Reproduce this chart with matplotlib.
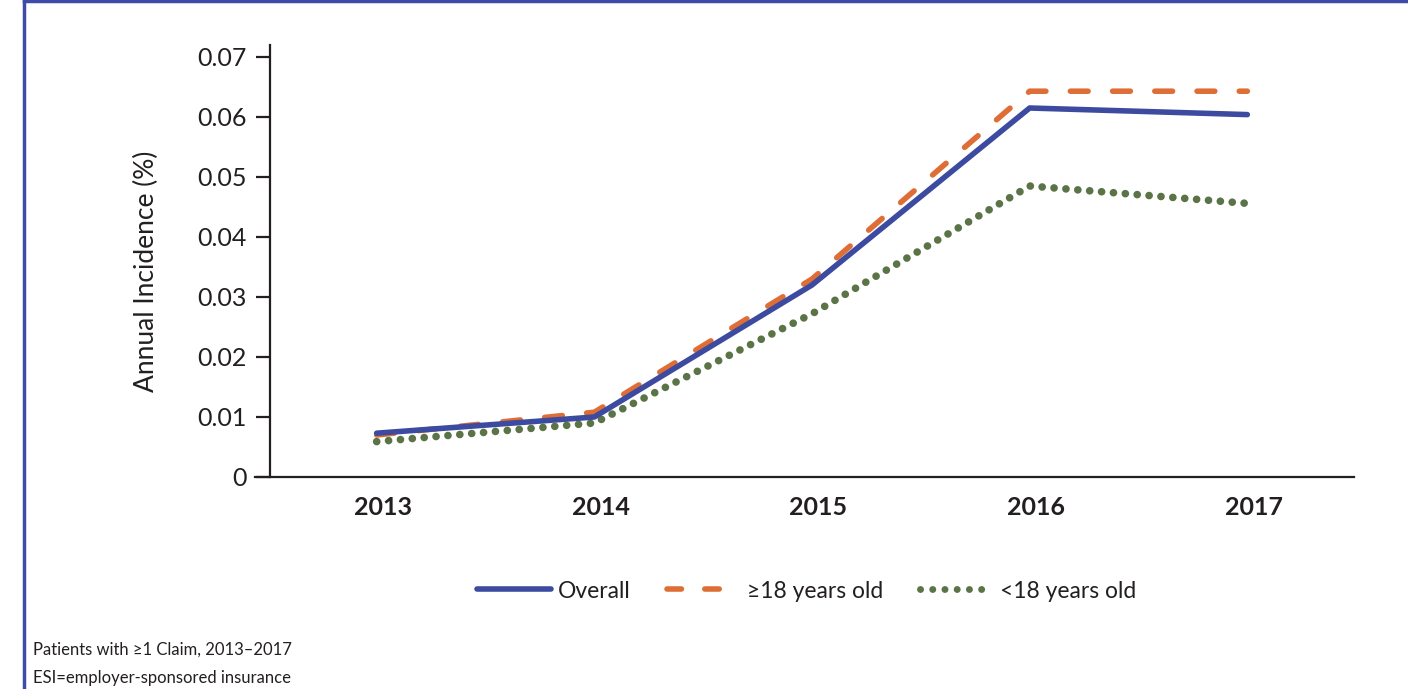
import matplotlib
matplotlib.use("Agg")
from matplotlib import pyplot as plt
from matplotlib.lines import Line2D
import numpy as np

# Data
years = ['2013', '2014', '2015', '2016', '2017']
overall = [0.0073, 0.0100, 0.0320, 0.0615, 0.0604]
adults = [0.0070, 0.0108, 0.0330, 0.0643, 0.0643]
children = [0.0059, 0.0090, 0.0272, 0.0485, 0.0456]

blue = '#3C4AA0'
orange = '#DE6E36'
green = '#5B7447'

plt.rcParams['font.family'] = ['Lato', 'DejaVu Sans']

fig = plt.figure(figsize=(14.08, 6.89), dpi=100)
ax = fig.add_axes([270 / 1408, 1 - 477 / 689, (1354 - 270) / 1408, (477 - 45) / 689])

x = np.arange(len(years))
ax.plot(x, overall, color=blue, lw=4, solid_capstyle='round', label='Overall', zorder=3)
ax.plot(x, adults, color=orange, lw=4, dashes=(3.2, 4.4), dash_capstyle='round',
        label='\u226518 years old', zorder=2)
ax.plot(x, children, color=green, lw=5.5, dashes=(0.01, 1.55), dash_capstyle='round',
        label='<18 years old', zorder=1)

ax.set_xlim(-0.49, 4.49)
ax.set_ylim(0, 0.072)
ax.set_yticks(np.arange(0, 0.071, 0.01))
ax.set_yticklabels(['0', '0.01', '0.02', '0.03', '0.04', '0.05', '0.06', '0.07'])
ax.set_xticks(x + 0.03)
ax.set_xticklabels(years, fontweight='bold')

for side in ['top', 'right']:
    ax.spines[side].set_visible(False)
for side in ['left', 'bottom']:
    ax.spines[side].set_linewidth(1.6)
    ax.spines[side].set_color('#231f20')
ax.spines['bottom'].set_bounds(-0.56, 4.49)
ax.spines['bottom'].set_clip_on(False)

ax.tick_params(axis='y', length=10, width=1.6, pad=7, labelsize=18, colors='#231f20')
ax.tick_params(axis='x', length=0, pad=14, labelsize=18, colors='#231f20')

ax.set_ylabel('Annual Incidence (%)', fontsize=19, color='#231f20')
ax.yaxis.set_label_coords(-0.102, 0.477)

handles = [
    Line2D([], [], color=blue, lw=4, solid_capstyle='round'),
    Line2D([], [], color=orange, lw=4, dashes=(2.6, 4.2), dash_capstyle='round'),
    Line2D([], [], color=green, lw=5, dashes=(0.01, 1.75), dash_capstyle='round'),
]
fig.legend(handles, ['Overall', '\u226518 years old', '<18 years old'],
           loc='center', bbox_to_anchor=(807 / 1408, 1 - 591 / 689), ncol=3,
           frameon=False, fontsize=16.5, handlelength=3.2, handletextpad=0.3,
           columnspacing=1.6, labelcolor='#231f20')

fig.text(33 / 1408, 1 - 650 / 689, 'Patients with \u22651 Claim, 2013\u20132017',
         fontsize=12, va='center', color='#231f20')
fig.text(33 / 1408, 1 - 678 / 689, 'ESI=employer-sponsored insurance',
         fontsize=12, va='center', color='#231f20')

# blue frame on top and left edges
border = '#3F4BA5'
fig.add_artist(Line2D([24 / 1408, 1], [1 - 1 / 689, 1 - 1 / 689], color=border, lw=2.5,
                      transform=fig.transFigure))
fig.add_artist(Line2D([24 / 1408, 24 / 1408], [0, 1], color=border, lw=2.5,
                      transform=fig.transFigure))

plt.savefig('out.png', dpi=100)
